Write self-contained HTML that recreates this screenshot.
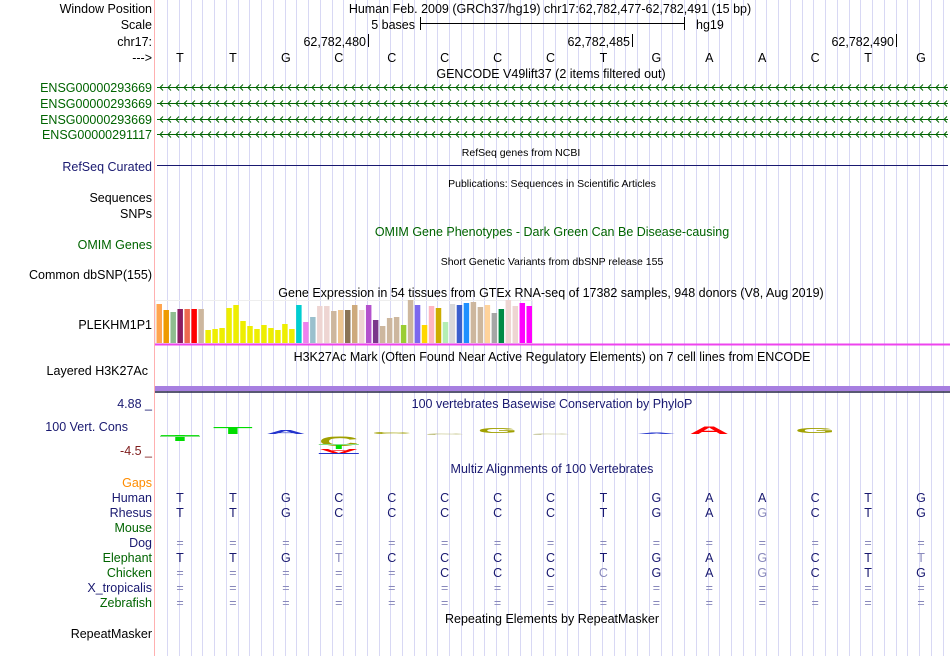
<!DOCTYPE html>
<html><head><meta charset="utf-8">
<style>
html,body{margin:0;padding:0;background:#fff;width:950px;height:656px;overflow:hidden}
svg{display:block;font-family:"Liberation Sans",sans-serif}
</style></head><body>
<svg id="c" width="950" height="656" xmlns="http://www.w3.org/2000/svg">
<g id="grid"></g>
<line x1="154.5" y1="0" x2="154.5" y2="656" stroke="#ffb0b0"/>
<g id="labels" font-size="12.5" text-anchor="end">
<text x="152" y="13" fill="#000">Window Position</text>
<text x="152" y="29" fill="#000">Scale</text>
<text x="152" y="46" fill="#000">chr17:</text>
<text x="152" y="62" fill="#000">---&gt;</text>
<text x="152" y="92" fill="#006400">ENSG00000293669</text>
<text x="152" y="108" fill="#006400">ENSG00000293669</text>
<text x="152" y="124" fill="#006400">ENSG00000293669</text>
<text x="152" y="139" fill="#006400">ENSG00000291117</text>
<text x="152" y="171" fill="#191970">RefSeq Curated</text>
<text x="152" y="202" fill="#000">Sequences</text>
<text x="152" y="218" fill="#000">SNPs</text>
<text x="152" y="249" fill="#006400">OMIM Genes</text>
<text x="152" y="279" fill="#000">Common dbSNP(155)</text>
<text x="152" y="329" fill="#000">PLEKHM1P1</text>
<text x="148" y="375" fill="#000">Layered H3K27Ac</text>
<text x="152" y="408" fill="#191970">4.88 _</text>
<text x="128" y="431" fill="#191970">100 Vert. Cons</text>
<text x="152" y="455" fill="#7f1d1d">-4.5 _</text>
<text x="152" y="487" fill="#ff8c00">Gaps</text>
<text x="152" y="502" fill="#191970">Human</text>
<text x="152" y="517" fill="#191970">Rhesus</text>
<text x="152" y="532" fill="#006400">Mouse</text>
<text x="152" y="547" fill="#191970">Dog</text>
<text x="152" y="562" fill="#006400">Elephant</text>
<text x="152" y="577" fill="#006400">Chicken</text>
<text x="152" y="592" fill="#191970">X_tropicalis</text>
<text x="152" y="607" fill="#006400">Zebrafish</text>
<text x="152" y="638" fill="#000">RepeatMasker</text>
</g>
<g font-size="12.5" fill="#000" text-anchor="middle">
<text x="550" y="13">Human Feb. 2009 (GRCh37/hg19)   chr17:62,782,477-62,782,491 (15 bp)</text>
<text x="551" y="78">GENCODE V49lift37 (2 items filtered out)</text>
<text x="552" y="236" fill="#006400">OMIM Gene Phenotypes - Dark Green Can Be Disease-causing</text>
<text x="551" y="297">Gene Expression in 54 tissues from GTEx RNA-seq of 17382 samples, 948 donors (V8, Aug 2019)</text>
<text x="552" y="361">H3K27Ac Mark (Often Found Near Active Regulatory Elements) on 7 cell lines from ENCODE</text>
<text x="552" y="408" fill="#191970">100 vertebrates Basewise Conservation by PhyloP</text>
<text x="552" y="473" fill="#191970">Multiz Alignments of 100 Vertebrates</text>
<text x="552" y="623">Repeating Elements by RepeatMasker</text>
</g>
<g font-size="10.5" fill="#000" text-anchor="middle">
<text x="521" y="156">RefSeq genes from NCBI</text>
<text x="552" y="187">Publications: Sequences in Scientific Articles</text>
<text x="552" y="265">Short Genetic Variants from dbSNP release 155</text>
</g>
<g font-size="12.5">
<text x="415" y="29" text-anchor="end">5 bases</text>
<line x1="420.5" y1="17" x2="420.5" y2="30" stroke="#000"/>
<line x1="420" y1="23.5" x2="684" y2="23.5" stroke="#000"/>
<line x1="684.5" y1="17" x2="684.5" y2="30" stroke="#000"/>
<text x="696" y="29">hg19</text>
</g>
<g font-size="12.5" text-anchor="end">
<text x="366" y="46">62,782,480</text><line x1="368.5" y1="34" x2="368.5" y2="47" stroke="#000"/>
<text x="630" y="46">62,782,485</text><line x1="632.5" y1="34" x2="632.5" y2="47" stroke="#000"/>
<text x="894" y="46">62,782,490</text><line x1="896.5" y1="34" x2="896.5" y2="47" stroke="#000"/>
</g>
<g id="gencode"></g>
<line x1="157" y1="165.5" x2="948" y2="165.5" stroke="#191970"/>
<g id="gtex"></g>
<line x1="155" y1="344.5" x2="950" y2="344.5" stroke="#ee44ee" stroke-width="2"/>
<rect x="155" y="386" width="795" height="5" fill="#a77fe0"/>
<line x1="155" y1="392" x2="950" y2="392" stroke="#222244" stroke-width="1.5"/>
<g id="phylop"></g>
<g id="seq" font-size="12.5" text-anchor="middle"></g>
</svg>
<script>
const bases = ["T","T","G","C","C","C","C","C","T","G","A","A","C","T","G"];
const gtexValues = [39,33,31,34,34,34,34,13,14,15,35,38,22,17,14,18,15,13,19,14,38,21,26,37,37,32,33,33,38,33,38,23,17,25,26,18,43,38,18,37,35,21,39,38,40,41,36,38,30,34,43,37,40,37];
const gtexColors = ["#FFA54F","#EE9A00","#8FBC8F","#8B1C62","#EE6A50","#FF0000","#CDB79E","#EEEE00","#EEEE00","#EEEE00","#EEEE00","#EEEE00","#EEEE00","#EEEE00","#EEEE00","#EEEE00","#EEEE00","#EEEE00","#EEEE00","#EEEE00","#00CED1","#EE82EE","#9AC0CD","#EED5D2","#EED5D2","#CDB79E","#EEC591","#8B7355","#CDAA7D","#EED5D2","#B452CD","#7A378B","#CDB79E","#CDB79E","#CDB79E","#9ACD32","#CDB79E","#7B68EE","#FFD700","#FFB6C1","#CDAD00","#B4EEB4","#D9D9D9","#3A5FCD","#1E90FF","#CDB79E","#CDB79E","#FFD39B","#A6A6A6","#008B45","#EED5D2","#EED5D2","#FF00FF","#FF00FF"];
const gtexMax = 48;
// phylop logo: base index, letter, color, bottom y, height
const logoIdx = [0,1,2,3,4,5,6,7,9,10,12];
const logoChars = ["T","T","A","C","C","C","G","C","A","A","G"];
const logoColors = ["#00dd00","#00dd00","#2233cc","#a0a000","#a0a000","#b8b870","#a0a000","#c0c090","#2233cc","#ff0000","#a0a000"];
const logoBottom = [441,434,434,446,434,435,433,435,434,434,433];
const logoHeight = [6,7,4,10,2,1.5,5,1.5,1.5,8,5];
const seqRows = [
 ["TTGCCCCCTGAACTG","000000000000000"],
 ["TTGCCCCCTGAGCTG","000000000001000"],
 ["","" ],
 ["===============","111111111111111"],
 ["TTGTCCCCTGAGCTT","000100000001001"],
 ["=====CCCCGAGCTG","111110001001000"],
 ["===============","111111111111111"],
 ["===============","111111111111111"]
];
const ns="http://www.w3.org/2000/svg";
function mk(t,a,p){const e=document.createElementNS(ns,t);for(const k in a)e.setAttribute(k,a[k]);p.appendChild(e);return e;}
const bw=52.93;
function bx(i){return 180+bw*i;}
const grid=document.getElementById('grid');
for(let x=167;x<950;x+=11.75){const l=mk('line',{x1:Math.round(x)+.5,y1:0,x2:Math.round(x)+.5,y2:656,stroke:'#d8d8f4'},grid);

}
const seq=document.getElementById('seq');
bases.forEach((b,i)=>{const t=mk('text',{x:bx(i),y:62,fill:'#000'},seq);t.textContent=b;

});
seqRows.forEach((r,j)=>{const y=502+15*j;for(let i=0;i<r[0].length;i++){const c=r[0][i];const light=r[1][i]==='1';
const t=mk('text',{x:bx(i),y:y,fill:light?'#8888bb':'#191970'},seq);t.textContent=c;

}});
const gc=document.getElementById('gencode');
[87,103,119,134].forEach(y=>{mk('line',{x1:157,y1:y+.5,x2:948,y2:y+.5,stroke:'#006400'},gc);
let d='';for(let x=160;x<948;x+=8){d+=`M${x+3},${y-2.5}L${x},${y+.5}L${x+3},${y+3.5}`;}
mk('path',{d:d,stroke:'#006400',fill:'none','stroke-width':1},gc);});
const gt=document.getElementById('gtex');
mk('rect',{x:155.5,y:300.5,width:377,height:43,fill:'none',stroke:'#eeeeee'},gt);
const gw=377/54,base=343,ph=48;
gtexValues.forEach((v,i)=>{const h=v/gtexMax*ph;const r=mk('rect',{x:156+i*gw+0.5,y:base-h,width:gw-1.5,height:h,fill:gtexColors[i]},gt);

});
const pp=document.getElementById('phylop');
logoIdx.forEach((bi,k)=>{const cx=bx(bi),yb=logoBottom[k],s=logoHeight[k]/11.5;
const t=mk('text',{x:cx-20,y:0,fill:logoColors[k],'font-size':16,'font-weight':'bold',textLength:40,lengthAdjust:'spacingAndGlyphs',transform:`translate(0 ${yb}) scale(1 ${s})`},pp);
t.textContent=logoChars[k];

});
// thin baseline-ish lines under small letters
[[0,436,'#88dd88'],[3,444,'#88dd88']].forEach(([bi,y,c])=>mk('line',{x1:bx(bi)-20,y1:y+.5,x2:bx(bi)+20,y2:y+.5,stroke:c},pp));
mk('rect',{x:bx(3)-3,y:445,width:6,height:4,fill:'#00dd00'},pp);
const neg=mk('text',{x:bx(3)-20,y:0,fill:'#ff0000','font-size':16,'font-weight':'bold',textLength:40,lengthAdjust:'spacingAndGlyphs',transform:'translate(0 449) scale(1 -0.4)'},pp);
neg.textContent='A';
mk('line',{x1:bx(3)-20,y1:453.5,x2:bx(3)+20,y2:453.5,stroke:'#2233cc'},pp);
</script>
</body></html>
